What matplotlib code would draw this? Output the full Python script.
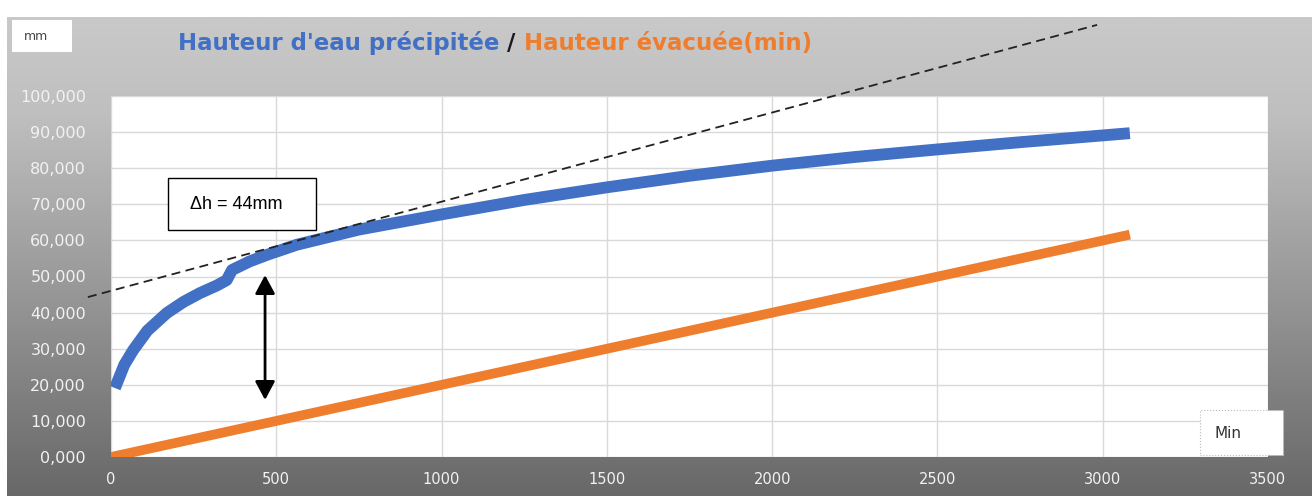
import numpy as np
import matplotlib.pyplot as plt
from matplotlib.colors import LinearSegmentedColormap
from matplotlib.patches import Rectangle
from matplotlib.ticker import FuncFormatter

# Hauteur d'eau précipitée (mm) en fonction du temps (min)
t_precip = [12, 40, 67, 110, 169, 220, 269, 320, 350, 366, 420, 472, 562, 750,
            1000, 1250, 1500, 1750, 2000, 2250, 2500, 2750, 3082]
h_precip = [19.1, 25.5, 29.6, 35.0, 39.9, 43.0, 45.4, 47.5, 49.0, 51.8, 54.2, 56.0,
            58.8, 63.0, 67.2, 71.2, 74.7, 77.9, 80.7, 83.1, 85.2, 87.2, 89.7]

# Hauteur évacuée (mm)
t_evac = [0, 3082]
h_evac = [0.0, 61.6]

# tangente (pointillés)
t_tan = [-70, 2983]
h_tan = [44.3, 119.7]

# flèche Δh
t_fleche = 466
h_fleche = [50.4, 15.8]

x_ticks = [0, 500, 1000, 1500, 2000, 2500, 3000, 3500]
y_ticks = [0, 10, 20, 30, 40, 50, 60, 70, 80, 90, 100]

bleu = '#4170c4'
orange = '#ee7d2e'

W, H = 1312, 496
fig = plt.figure(figsize=(W / 100, H / 100), dpi=100)

# fond dégradé gris (coordonnées en pixels)
bg = fig.add_axes([0, 0, 1, 1])
bg.set_xlim(0, W)
bg.set_ylim(H, 0)
bg.axis('off')
cmap = LinearSegmentedColormap.from_list('gris', [(0, '#c9c9c9'), (0.2, '#bfbfbf'), (0.55, '#9a9a9a'), (1, '#686868')])
grad = np.linspace(0, 1, 256).reshape(-1, 1)
bg.imshow(grad, cmap=cmap, aspect='auto', extent=(7, W, H, 17), zorder=0)

# zone de tracé
ax = fig.add_axes([111 / W, 1 - 457 / H, (1268 - 111) / W, (457 - 96) / H])
ax.set_zorder(2)
ax.set_facecolor('white')
ax.set_xlim(0, 3500)
ax.set_ylim(0, 100)
ax.set_xticks(x_ticks)
ax.set_yticks(y_ticks)
ax.grid(True, color='#d9d9d9', lw=1)
ax.set_axisbelow(True)
for s in ax.spines.values():
    s.set_visible(False)
ax.tick_params(length=0, colors='#f2f2f2', labelsize=10.5)
ax.tick_params(axis='y', pad=18, labelsize=11.5)
ax.tick_params(axis='x', pad=11)
ax.yaxis.set_major_formatter(FuncFormatter(lambda v, p: f'{v:.3f}'.replace('.', ',')))

ax.plot(t_evac, h_evac, color=orange, lw=7, solid_capstyle='butt')
ax.plot(t_precip, h_precip, color=bleu, lw=8.5, solid_capstyle='butt', solid_joinstyle='round')
ax.plot(t_tan, h_tan, color='#222222', lw=1.3, ls=(0, (5, 3)), clip_on=False)
ax.annotate('', xy=(t_fleche, h_fleche[1]), xytext=(t_fleche, h_fleche[0]),
            arrowprops=dict(arrowstyle='<|-|>,head_length=0.75,head_width=0.4',
                            mutation_scale=15, color='black', lw=2, shrinkA=0, shrinkB=0))

# titre
t1 = bg.text(178, 43, "Hauteur d'eau précipitée ", color=bleu, fontsize=16.5,
             fontweight='bold', va='center', zorder=3)
t2 = bg.annotate('/', xy=(1, 0), xycoords=t1, va='bottom', color='#1a1a1a',
                 fontsize=16.5, fontweight='bold', zorder=3)
t3 = bg.annotate(' Hauteur évacuée(min)', xy=(1, 0), xycoords=t2, va='bottom',
                 color=orange, fontsize=16.5, fontweight='bold', zorder=3)

# étiquettes
bg.add_patch(Rectangle((12, 20), 60, 32, facecolor='white', edgecolor='none', zorder=3))
bg.text(24, 37, 'mm', fontsize=9, color='#444444', va='center', zorder=4)
fig.patches.append(Rectangle((1200 / W, 1 - 455 / H), 83 / W, 45 / H, transform=fig.transFigure,
                             facecolor='white', edgecolor='#bbbbbb', lw=0.8, ls=':', zorder=5))
fig.text(1214 / W, 1 - 433 / H, 'Min', fontsize=11, color='#333333', va='center', zorder=6)

# boîte Δh
box = Rectangle((168 / W, 1 - 230 / H), 148 / W, 52 / H, transform=fig.transFigure,
                facecolor='white', edgecolor='black', lw=1, zorder=5)
fig.patches.append(box)
fig.text(190 / W, 1 - 204 / H, 'Δh = 44mm', fontsize=13, family='Liberation Sans',
         va='center', color='black', zorder=6)

fig.savefig('out.png', dpi=100)
